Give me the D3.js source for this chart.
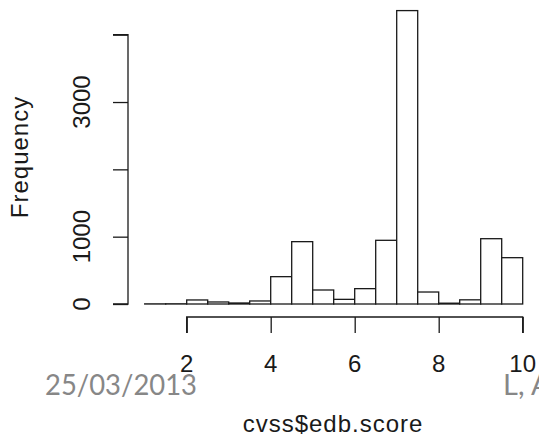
<!DOCTYPE html>
<html><head><meta charset="utf-8">
<script src="https://cdn.jsdelivr.net/npm/d3@7"></script>
<style>body{margin:0;background:#fff}svg{display:block}</style>
</head><body>
<svg id="c" width="539" height="436"></svg>
<script>
const binEdges = [1,1.5,2,2.5,3,3.5,4,4.5,5,5.5,6,6.5,7,7.5,8,8.5,9,9.5,10];
const counts = [2,3,60,30,15,45,406,926,208,69,228,946,4358,178,12,62,970,688];
const xTicks = [2,4,6,8,10];
const yTicks = [0,1000,2000,3000,4000];
const yTickLabels = ["0","1000","","3000",""];
const xLabel = "cvss$edb.score";
const yLabel = "Frequency";
const footerLeft = "25/03/2013";
const footerRight = "L, A";

const svg = d3.select("#c");
const x = d3.scaleLinear().domain([2,10]).range([186.7,522.7]);
const y = d3.scaleLinear().domain([0,4000]).range([304,34.7]);
const ink = "#1a1a1a";
const font = "'Liberation Sans', Arial, sans-serif";

const bins = counts.map((c,i)=>({x0:binEdges[i],x1:binEdges[i+1],c}));
svg.append("g").selectAll("rect").data(bins).join("rect")
  .attr("x",d=>x(d.x0)).attr("width",d=>x(d.x1)-x(d.x0))
  .attr("y",d=>y(d.c)).attr("height",d=>y(0)-y(d.c))
  .attr("fill","#fff").attr("stroke",ink).attr("stroke-width",1.3);

// y axis
const ya = svg.append("g").attr("transform","translate(128,0)")
  .call(d3.axisLeft(y).tickValues(yTicks).tickSize(15).tickFormat(""));
ya.select(".domain").attr("stroke",ink).attr("stroke-width",1.3).attr("d",`M-15,${y(4000)}H0V${y(0)}H-15`);
ya.selectAll(".tick line").attr("stroke",ink).attr("stroke-width",1.3);
svg.append("g").selectAll("text").data(yTicks.map((v,i)=>({v,l:yTickLabels[i]})).filter(d=>d.l))
  .join("text")
  .attr("transform",d=>`translate(90,${y(d.v)}) rotate(-90)`)
  .attr("text-anchor","middle").attr("font-family",font).attr("font-size",24).attr("fill",ink)
  .text(d=>d.l);

// x axis
const xa = svg.append("g").attr("transform","translate(0,317)")
  .call(d3.axisBottom(x).tickValues(xTicks).tickSize(16).tickFormat(""));
xa.select(".domain").attr("stroke",ink).attr("stroke-width",1.3).attr("d",`M${x(2)},16V0H${x(10)}V16`);
xa.selectAll(".tick line").attr("stroke",ink).attr("stroke-width",1.3);
svg.append("g").selectAll("text").data(xTicks).join("text")
  .attr("x",d=>x(d)).attr("y",372).attr("text-anchor","middle")
  .attr("font-family",font).attr("font-size",24).attr("fill",ink).text(d=>d3.format("d")(d));

// titles
svg.append("text").attr("transform","translate(28,157) rotate(-90)").attr("text-anchor","middle")
  .attr("font-family",font).attr("font-size",24).attr("letter-spacing",1).attr("fill",ink).text(yLabel);
svg.append("text").attr("x",333).attr("y",432).attr("text-anchor","middle")
  .attr("font-family",font).attr("font-size",24).attr("letter-spacing",1).attr("fill",ink).text(xLabel);

// footer
svg.append("text").attr("x",45).attr("y",395).attr("font-family","Lato, 'Open Sans', sans-serif")
  .attr("font-size",29).attr("textLength",152).attr("lengthAdjust","spacingAndGlyphs")
  .attr("fill","#878787").text(footerLeft);
svg.append("text").attr("x",503).attr("y",395).attr("font-family","Lato, 'Open Sans', sans-serif")
  .attr("font-size",29).attr("fill","#878787").text(footerRight);
</script>
</body></html>
